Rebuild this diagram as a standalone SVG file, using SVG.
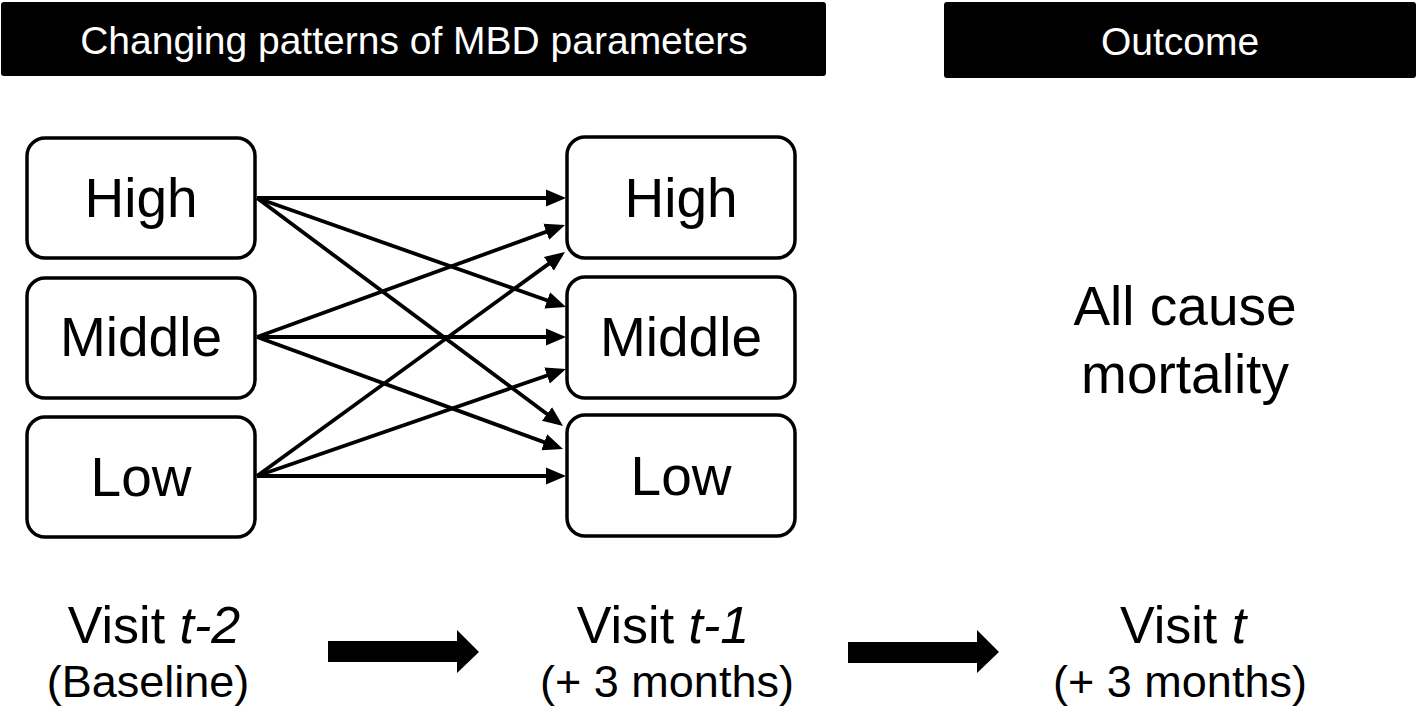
<svg xmlns="http://www.w3.org/2000/svg" width="1418" height="711" viewBox="0 0 1418 711">
<defs>
<style>
.hdr{fill:#000;}
.hdrt{fill:#fff;font-family:"Liberation Sans",Arial,sans-serif;font-size:39px;text-anchor:middle;}
.box{fill:#fff;stroke:#000;stroke-width:3.5;}
.bt{font-family:"Liberation Sans",Arial,sans-serif;font-size:55px;text-anchor:middle;fill:#000;}
.vt{font-family:"Liberation Sans",Arial,sans-serif;font-size:52px;text-anchor:middle;fill:#000;}
.ot{font-family:"Liberation Sans",Arial,sans-serif;font-size:55px;text-anchor:middle;fill:#000;}
.st{font-family:"Liberation Sans",Arial,sans-serif;font-size:45px;text-anchor:middle;fill:#000;}
.conn line{stroke:#000;stroke-width:3.8;marker-end:url(#ah);}
.big{fill:#000;}
</style>
<marker id="ah" markerUnits="userSpaceOnUse" markerWidth="24" markerHeight="22" viewBox="0 -11 24 22" refX="10" refY="0" orient="auto">
<path d="M0,-8.5 L20,0 L0,8.5 z" fill="#000"/>
</marker>
</defs>
<rect width="1418" height="711" fill="#fff"/>

<g id="header-patterns">
<rect class="hdr" x="1" y="2" width="825" height="74" rx="3"/>
<text class="hdrt" x="414" y="54">Changing patterns of MBD parameters</text>
</g>
<g id="header-outcome">
<rect class="hdr" x="944" y="2" width="472" height="76" rx="3"/>
<text class="hdrt" x="1180" y="55">Outcome</text>
</g>

<g id="left-high"><rect class="box" x="27" y="138" width="228" height="120" rx="18"/><text class="bt" x="141" y="217">High</text></g>
<g id="left-middle"><rect class="box" x="27" y="278" width="228" height="120" rx="18"/><text class="bt" x="141" y="356">Middle</text></g>
<g id="left-low"><rect class="box" x="27" y="417" width="228" height="120" rx="18"/><text class="bt" x="141" y="496">Low</text></g>

<g id="right-high"><rect class="box" x="567" y="137" width="228" height="121" rx="18"/><text class="bt" x="681" y="217">High</text></g>
<g id="right-middle"><rect class="box" x="567" y="277" width="228" height="121" rx="18"/><text class="bt" x="681" y="356">Middle</text></g>
<g id="right-low"><rect class="box" x="567" y="415" width="228" height="121" rx="18"/><text class="bt" x="681" y="495">Low</text></g>

<g id="connectors" class="conn">
<line x1="257" y1="198" x2="556" y2="198"/>
<line x1="257" y1="337" x2="555.6" y2="228.4"/>
<line x1="257" y1="476" x2="556.9" y2="257.9"/>
<line x1="257" y1="198" x2="556.6" y2="303.7"/>
<line x1="257" y1="337" x2="556" y2="337"/>
<line x1="257" y1="476" x2="556.5" y2="372.3"/>
<line x1="257" y1="198" x2="555" y2="420"/>
<line x1="257" y1="337" x2="553.6" y2="445.6"/>
<line x1="257" y1="476" x2="556" y2="476"/>
</g>

<g id="outcome">
<text class="ot" x="1185" y="325">All cause</text>
<text class="ot" x="1185" y="393">mortality</text>
</g>

<g id="visit-t2">
<text class="vt" x="154" y="643">Visit <tspan font-style="italic">t-2</tspan></text>
<text class="st" x="148" y="697">(Baseline)</text>
</g>
<g id="visit-t1">
<text class="vt" x="663" y="643">Visit <tspan font-style="italic">t-1</tspan></text>
<text class="st" x="667" y="697">(+ 3 months)</text>
</g>
<g id="visit-t">
<text class="vt" x="1183" y="643">Visit <tspan font-style="italic">t</tspan></text>
<text class="st" x="1180" y="697">(+ 3 months)</text>
</g>

<g id="arrow-1"><path class="big" d="M328,641 L457,641 L457,630 L479,652 L457,673 L457,662 L328,662 z"/></g>
<g id="arrow-2"><path class="big" d="M848,642 L977,642 L977,630 L999,652 L977,673 L977,663 L848,663 z"/></g>
</svg>
